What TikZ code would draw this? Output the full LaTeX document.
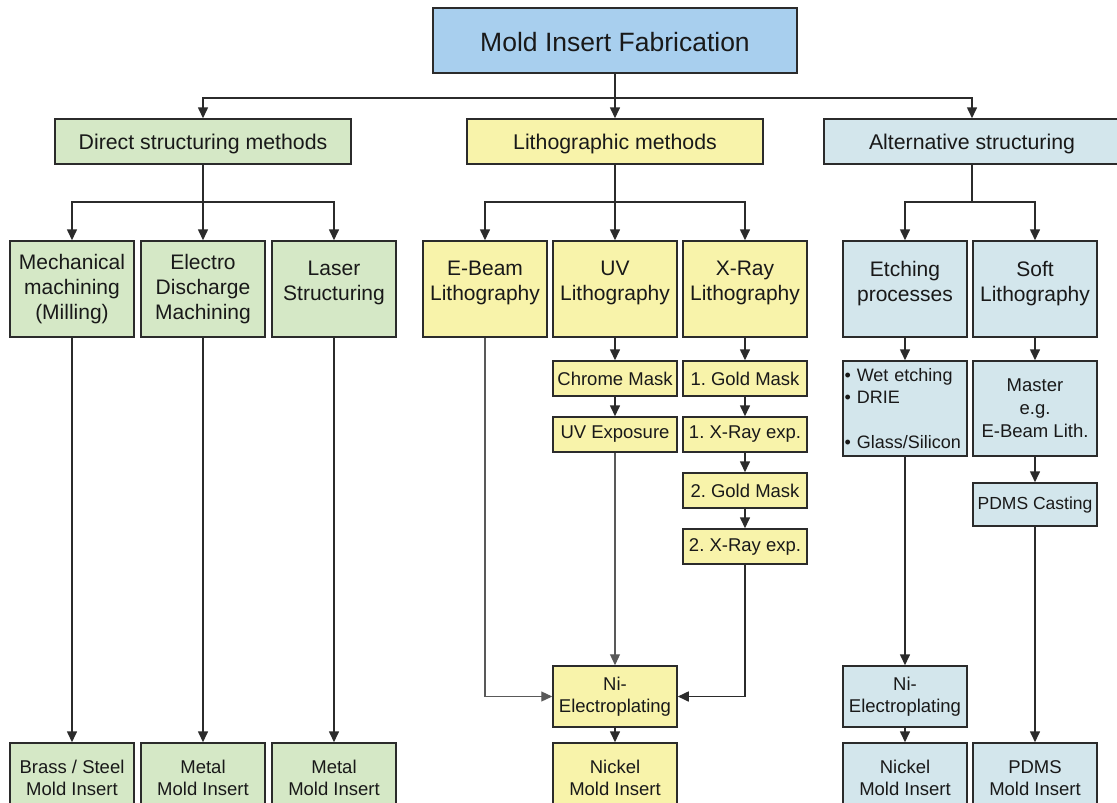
\documentclass[tikz,border=0pt]{standalone}
\usepackage{fontspec}
\setmainfont{Liberation Sans}
\usetikzlibrary{arrows.meta}
\frenchspacing

\definecolor{topblue}{HTML}{A8CFEE}
\definecolor{boxgreen}{HTML}{D5E8C6}
\definecolor{boxyellow}{HTML}{F8F3AA}
\definecolor{boxblue}{HTML}{D3E6EC}
\definecolor{ink}{HTML}{2B2B2B}

% extra depth on the last line lifts two-line labels a little
\newcommand{\padlow}{\rule[-16pt]{0pt}{1pt}}

\tikzset{
  box/.style={draw=ink, line width=1.5pt, align=center, inner sep=2pt, text=black!90},
  ftop/.style={box, fill=topblue, font=\fontsize{26.5}{30}\selectfont},
  fgreen/.style={box, fill=boxgreen},
  fyellow/.style={box, fill=boxyellow},
  fblue/.style={box, fill=boxblue},
  head/.style={font=\fontsize{21.3}{25}\selectfont, minimum width=296pt, minimum height=45pt, text depth=0pt},
  tall/.style={font=\fontsize{21}{25}\selectfont, minimum width=124pt, minimum height=96pt},
  stepbox/.style={font=\fontsize{18.5}{22.5}\selectfont, minimum width=124pt, minimum height=35pt},
  platebox/.style={font=\fontsize{18.5}{22.5}\selectfont, minimum width=124pt, minimum height=61pt},
  endbox/.style={font=\fontsize{18.5}{22.5}\selectfont, minimum width=124pt, minimum height=70pt},
  wire/.style={draw=ink, line width=1.6pt},
  arr/.style={wire, -{Triangle[width=10pt,length=11pt]}},
  thinarr/.style={draw=black!65, line width=1.2pt, -{Triangle[width=10pt,length=11pt]}}
}

\begin{document}
\begin{tikzpicture}[x=1pt, y=-1pt]
\clip (0,0) rectangle (1117,803);
\fill[white] (0,0) rectangle (1117,803);

% root
\node[ftop, minimum width=364pt, minimum height=65pt, text depth=0pt] (root) at (615,40.5) {\raisebox{-2pt}{Mold Insert Fabrication}};

% three method families
\node[fgreen, head]  (direct) at (203,141.5) {Direct structuring methods};
\node[fyellow, head] (litho)  at (615,141.5) {Lithographic methods};
\node[fblue, head]   (alt)    at (972,141.5) {Alternative structuring};

% direct structuring column
\node[fgreen, tall] (mech)  at (72,289)  {Mechanical\\machining\\(Milling)};
\node[fgreen, tall] (edm)   at (203,289) {Electro\\Discharge\\Machining};
\node[fgreen, tall] (laser) at (334,289) {Laser\\Structuring\padlow};
\node[fgreen, endbox] (brass)  at (72,778)  {Brass / Steel\\Mold Insert};
\node[fgreen, endbox] (metal1) at (203,778) {Metal\\Mold Insert};
\node[fgreen, endbox] (metal2) at (334,778) {Metal\\Mold Insert};

% lithographic column
\node[fyellow, tall] (ebeam) at (485,289) {E-Beam\\Lithography\padlow};
\node[fyellow, tall] (uv)    at (615,289) {UV\\Lithography\padlow};
\node[fyellow, tall] (xray)  at (745,289) {X-Ray\\Lithography\padlow};
\node[fyellow, stepbox] (chrome) at (615,378.5) {Chrome Mask};
\node[fyellow, stepbox] (uvexp)  at (615,434.5) {UV Exposure};
\node[fyellow, stepbox] (gold1)  at (745,378.5) {1. Gold Mask};
\node[fyellow, stepbox] (xexp1)  at (745,434.5) {1. X-Ray exp.};
\node[fyellow, stepbox] (gold2)  at (745,490.5) {2. Gold Mask};
\node[fyellow, stepbox] (xexp2)  at (745,546.5) {2. X-Ray exp.};
\node[fyellow, platebox] (niA)   at (615,696.5) {Ni-\\Electroplating};
\node[fyellow, endbox] (nickelA) at (615,778) {Nickel\\Mold Insert};

% alternative structuring column
\node[fblue, tall] (etch) at (905,289)  {Etching\\processes\padlow};
\node[fblue, tall] (soft) at (1035,289) {Soft\\Lithography\padlow};
\node[fblue, font=\fontsize{18}{22.5}\selectfont, minimum width=124pt, minimum height=95pt,
      align=left, text width=121pt, inner xsep=1.5pt] (wet) at (905,408.5)
      {• Wet etching\\• DRIE\\[22.5pt]• Glass/Silicon};
\node[fblue, font=\fontsize{18.5}{23}\selectfont, minimum width=124pt, minimum height=95pt]
      (master) at (1035,408.5) {Master\\e.g.\\E-Beam Lith.};
\node[fblue, font=\fontsize{17.5}{21}\selectfont, minimum width=124pt, minimum height=43pt]
      (pdmscast) at (1035,504.5) {PDMS Casting};
\node[fblue, platebox] (niB)     at (905,696.5)  {Ni-\\Electroplating};
\node[fblue, endbox]   (nickelB) at (905,778)  {Nickel\\Mold Insert};
\node[fblue, endbox]   (pdmsins) at (1035,778) {PDMS\\Mold Insert};

% bus junctions
\coordinate (busTop)    at (615,98);
\coordinate (busDirect) at (203,202);
\coordinate (busLitho)  at (615,202);
\coordinate (busAlt)    at (972,202);

% root to families
\draw[arr] (root.south) -- (litho.north);
\draw[arr] (busTop) -| (direct.north);
\draw[arr] (busTop) -| (alt.north);

% families to methods
\draw[arr] (direct.south) -- (edm.north);
\draw[arr] (busDirect) -| (mech.north);
\draw[arr] (busDirect) -| (laser.north);
\draw[arr] (litho.south) -- (uv.north);
\draw[arr] (busLitho) -| (ebeam.north);
\draw[arr] (busLitho) -| (xray.north);
\draw[wire] (alt.south) -- (busAlt);
\draw[arr] (busAlt) -| (etch.north);
\draw[arr] (busAlt) -| (soft.north);

% direct structuring results
\draw[arr] (mech.south)  -- (brass.north);
\draw[arr] (edm.south)   -- (metal1.north);
\draw[arr] (laser.south) -- (metal2.north);

% lithographic process chains
\draw[arr] (uv.south) -- (chrome.north);
\draw[arr] (chrome.south) -- (uvexp.north);
\draw[arr] (xray.south) -- (gold1.north);
\draw[arr] (gold1.south) -- (xexp1.north);
\draw[arr] (xexp1.south) -- (gold2.north);
\draw[arr] (gold2.south) -- (xexp2.north);
\draw[thinarr] (ebeam.south) |- (niA.west);
\draw[thinarr] (uvexp.south) -- (niA.north);
\draw[arr] (xexp2.south) |- (niA.east);
\draw[arr] (niA.south) -- (nickelA.north);

% alternative process chains
\draw[arr] (etch.south) -- (wet.north);
\draw[arr] (wet.south) -- (niB.north);
\draw[arr] (niB.south) -- (nickelB.north);
\draw[arr] (soft.south) -- (master.north);
\draw[arr] (master.south) -- (pdmscast.north);
\draw[arr] (pdmscast.south) -- (pdmsins.north);
\end{tikzpicture}
\end{document}
